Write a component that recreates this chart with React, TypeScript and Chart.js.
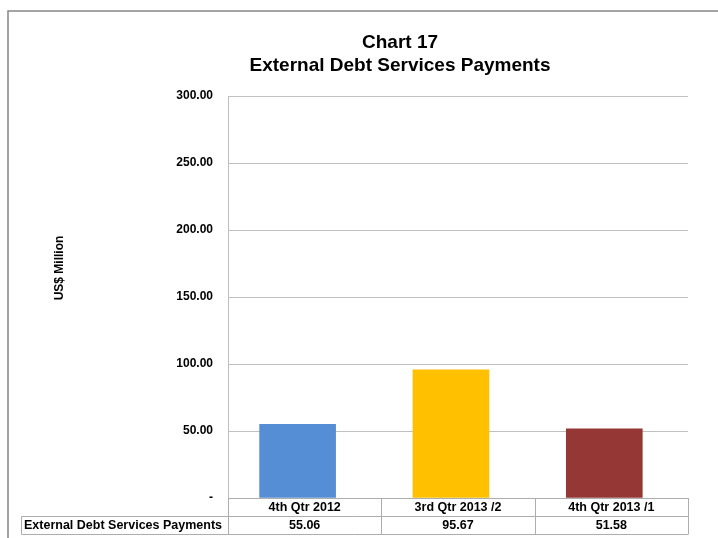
import React, { useEffect, useRef } from "react";
import { Chart, registerables } from "chart.js";

Chart.register(...registerables);

const titleLines = ["Chart 17", "External Debt Services Payments"];
const yAxisTitle = "US$ Million";
const seriesName = "External Debt Services Payments";
const categories = ["4th Qtr 2012", "3rd Qtr 2013 /2", "4th Qtr 2013 /1"];
const values = [55.06, 95.67, 51.58];
const barColors = ["#558ED5", "#FFC000", "#953735"];
const yMin = 0;
const yMax = 300;
const yStep = 50;

const FONT = "'Liberation Sans', Arial, sans-serif";

const decorPlugin = {
  id: "decor",
  afterDraw(chart: any) {
    const ctx = chart.ctx;
    const area = chart.chartArea;
    ctx.save();

    // outer frame (clipped by canvas on right/bottom)
    ctx.strokeStyle = "#868686";
    ctx.lineWidth = 1.5;
    ctx.beginPath();
    ctx.moveTo(8, chart.height + 5);
    ctx.lineTo(8, 11);
    ctx.lineTo(chart.width + 5, 11);
    ctx.stroke();

    // title
    ctx.fillStyle = "#000";
    ctx.textAlign = "center";
    ctx.textBaseline = "middle";
    ctx.font = `bold 19px ${FONT}`;
    ctx.fillText(titleLines[0], 400, 43);
    ctx.fillText(titleLines[1], 400, 66);

    // y axis title
    ctx.save();
    ctx.translate(60, 268);
    ctx.rotate(-Math.PI / 2);
    ctx.font = `bold 12px ${FONT}`;
    ctx.fillText(yAxisTitle, 0, 0);
    ctx.restore();

    // data table
    const n = categories.length;
    const colW = (area.right - area.left) / n;
    const top = area.bottom;
    const row1 = top + 18.5;
    const row2 = top + 36.5;
    const tableLeft = 21.5;
    ctx.strokeStyle = "#ADADAD";
    ctx.lineWidth = 1;
    ctx.beginPath();
    ctx.moveTo(area.left, top + 0.5);
    ctx.lineTo(area.right, top + 0.5);
    ctx.moveTo(tableLeft, row1);
    ctx.lineTo(area.right, row1);
    ctx.moveTo(tableLeft, row2);
    ctx.lineTo(area.right, row2);
    ctx.moveTo(tableLeft, row1);
    ctx.lineTo(tableLeft, row2);
    for (let i = 0; i <= n; i++) {
      const x = Math.round(area.left + i * colW) + 0.5;
      ctx.moveTo(x, top);
      ctx.lineTo(x, row2);
    }
    ctx.stroke();

    ctx.fillStyle = "#000";
    ctx.font = `bold 12.5px ${FONT}`;
    ctx.textBaseline = "middle";
    ctx.textAlign = "center";
    for (let i = 0; i < n; i++) {
      const cx = area.left + (i + 0.5) * colW;
      ctx.fillText(categories[i], cx, (top + row1) / 2 + 0.5);
      ctx.fillText(values[i].toFixed(2), cx, (row1 + row2) / 2 + 0.5);
    }
    ctx.textAlign = "left";
    ctx.fillText(seriesName, 24, (row1 + row2) / 2 + 0.5);

    ctx.restore();
  },
};

export default function App() {
  const ref = useRef<HTMLCanvasElement | null>(null);

  useEffect(() => {
    if (!ref.current) return;
    const chart = new Chart(ref.current, {
      type: "bar",
      data: {
        datasets: [
          {
            label: seriesName,
            data: values.map((v, i) => ({ x: i, y: v })),
            backgroundColor: barColors,
            borderWidth: 0,
            barThickness: 76,
          },
        ],
      },
      options: {
        responsive: false,
        animation: false,
        devicePixelRatio: 1,
        layout: { padding: { top: 96, right: 30, bottom: 40, left: 0 } },
        plugins: {
          legend: { display: false },
          title: { display: false },
          tooltip: { enabled: false },
        },
        scales: {
          x: {
            type: "linear",
            display: false,
            offset: false,
            min: -0.454,
            max: categories.length - 0.454,
          },
          y: {
            min: yMin,
            max: yMax,
            afterFit(scale: any) {
              scale.width = 228;
            },
            ticks: {
              stepSize: yStep,
              padding: 15,
              color: "#000",
              font: { family: FONT, size: 12, weight: "bold" },
              callback: (v: any) => (Number(v) === 0 ? "-" : Number(v).toFixed(2)),
            },
            grid: { color: "#C0C0C0", drawTicks: false, lineWidth: 1 },
            border: { color: "#C0C0C0" },
          },
        },
      },
      plugins: [decorPlugin],
    });
    return () => chart.destroy();
  }, []);

  return (
    <div style={{ position: "absolute", left: 0, top: 0, width: 718, height: 538, background: "#fff" }}>
      <canvas ref={ref} width={718} height={538} style={{ width: 718, height: 538, display: "block" }} />
    </div>
  );
}
